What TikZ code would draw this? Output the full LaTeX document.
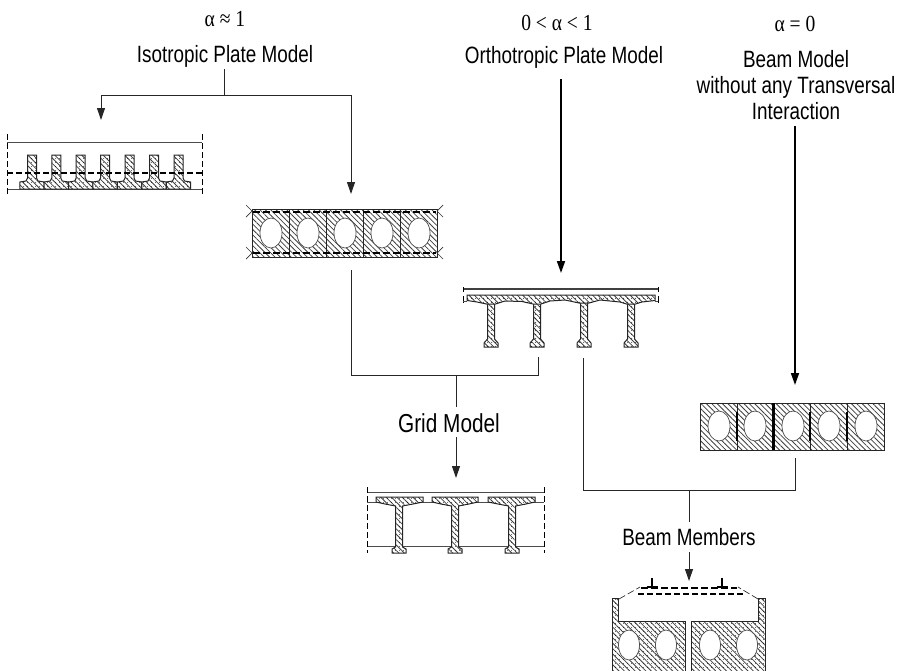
\documentclass[tikz,border=0pt]{standalone}
\usepackage{fontspec}
\setmainfont[FakeStretch=0.8]{Liberation Sans}
\newfontfamily\grk[FakeStretch=0.85]{Liberation Serif}
\usetikzlibrary{patterns.meta,arrows.meta}
\tikzset{
 x=1pt,y=-1pt,
 lab/.style={inner sep=0pt,font=\fontsize{23.6}{26}\selectfont,align=center},
 grklab/.style={inner sep=0pt,font=\grk\fontsize{23}{26}\selectfont},
 conn/.style={line width=1pt,black!85},
 heavy/.style={line width=1.7pt,black,-{Triangle[length=12pt,width=8pt]}},
 arr/.style={conn,-{Triangle[length=12pt,width=8pt]}},
 hatch/.style={draw=black!85,line width=1pt,preaction={fill=white},pattern={Lines[angle=135,distance=3.8pt,line width=.8pt]},pattern color=black!75},
 conc/.style={hatch,postaction={pattern={Dots[distance=4pt,radius=.55pt]},pattern color=black}},
 hole/.style={draw=black!70,line width=.7pt,fill=white},
 thin line/.style={line width=1pt,black!70},
 dash line/.style={line width=1.1pt,black,dash pattern=on 6pt off 3pt},
 strong dash/.style={line width=1.5pt,black,dash pattern=on 7pt off 3pt},
 tick dash/.style={line width=.9pt,black,dash pattern=on 6pt off 3pt},
}
\begin{document}
\begin{tikzpicture}
\useasboundingbox (0,0) rectangle (903,670);
% ---- labels
\node[grklab] (a1) at (225,19) {α ≈ 1};
\node[lab] (iso) at (225,56) {Isotropic Plate Model};
\node[grklab] (a2) at (557,23) {0 < α < 1};
\node[lab] (ortho) at (564,57) {Orthotropic Plate Model};
\node[grklab] (a3) at (795,24) {α = 0};
\node[lab] (beam) at (796,85) {Beam Model\\without any Transversal\\Interaction};
\node[lab,font=\fontsize{26}{28}\selectfont] (grid) at (449,423) {Grid Model};
\node[lab] (members) at (689,537) {Beam Members};
% ---- panel A
\draw[thin line] (7,142) -- (202,142);
\draw[thin line] (7,189) -- (202,189);
\foreach \x in {7,202} \draw[tick dash] (\x,134) -- (\x,194);
\foreach \x in {32,56.3,80.7,105,129.5,154,178.5}{
 \draw[conc] (\x-12.2,189) -- (\x-12.2,182) -- (\x-6,181) -- (\x-4.5,178) -- (\x-4.5,155) -- (\x+4.5,155) -- (\x+4.5,178) -- (\x+6,181) -- (\x+12.2,182) -- (\x+12.2,189) -- cycle;
}
\draw[dash line] (7,173) -- (202,173);
% ---- panel B
\draw[hatch] (252,209) rectangle (437,257);
\foreach \x in {289,326,363,400} \draw[line width=1pt,black!85] (\x,209) -- (\x,257);
\foreach \x in {271,308,345,382,419} \draw[hole] (\x,233) ellipse (11 and 15);
\draw[strong dash] (253,212) -- (436,212);
\draw[strong dash] (253,253) -- (436,253);
\foreach \x/\s in {252/-1,437/1}{
 \foreach \y in {211,253}{
  \draw[line width=.7pt,black!80] (\x+\s*6,\y-6) -- (\x,\y) -- (\x+\s*6,\y+6);
 }
}
% ---- panel C
\draw[line width=1.2pt,black!75] (463,289) -- (658,289);
\draw[line width=.9pt] (463,287) -- (463,292) (658,287) -- (658,292) (463,296) -- (463,303) (658,296) -- (658,303);
\draw[thin line] (463,301) -- (467,301) (655,301) -- (658,301);
\foreach \x in {491,537,584,631}{
 \draw[conc] (\x-3.5,300) -- (\x-3.5,339) -- (\x-7,343) -- (\x-7,347) -- (\x+7,347) -- (\x+7,343) -- (\x+3.5,339) -- (\x+3.5,300);
}
\draw[conc] (467,295) -- (655,295) -- (655,300.5) -- (642,302) -- (635.5,304) -- (626.5,304) -- (620,302) -- (600,300) -- (589,303) -- (579,303) -- (565,300) -- (550,301) -- (541,304) -- (533,304) -- (522,301.5) -- (505,301) -- (495.5,304) -- (486.5,304) -- (477,302) -- (467,300.5) -- cycle;
% ---- panel D
\draw[thin line] (367,492) -- (544,492);
\draw[thin line] (367,546) -- (544,546);
\draw[thin line] (367,502) -- (544,502);
\foreach \x in {367,544} \draw[tick dash] (\x,487) -- (\x,553);
\foreach \x/\la/\lb in {399/376/423,455/432/478,512/488/535}{
 \draw[conc] (\la,497) -- (\lb,497) -- (\lb,502) -- (\x+14,504) -- (\x+3.5,506) -- (\x+3.5,547) -- (\x+7,549) -- (\x+7,553) -- (\x-7,553) -- (\x-7,549) -- (\x-3.5,547) -- (\x-3.5,506) -- (\x-14,504) -- (\la,502) -- cycle;
}
% ---- panel F
\draw[hatch] (700,403) rectangle (884,450);
\foreach \x in {719,755,793,829,866} \draw[hole] (\x,426) ellipse (11 and 15);
\draw[line width=1pt,black!85] (737,403) -- (737,450) (810,403) -- (810,450) (847,403) -- (847,450);
\foreach \x in {737,810,847} \draw[line width=2.6pt,black] (\x,412) -- (\x,441);
\draw[line width=2.6pt,black] (773.5,403) -- (773.5,450);
% ---- panel E
\begin{scope}
\clip (600,570) rectangle (903,670);
\draw[conc] (612,680) -- (612,598) -- (618,598) -- (618,621) -- (685,621) -- (685,680);
\draw[conc] (691,680) -- (691,621) -- (758,621) -- (758,598) -- (765,598) -- (765,680);
\foreach \x in {629,666,710,747} \draw[hole] (\x,645) ellipse (10.5 and 15);
\end{scope}
\draw[strong dash] (641,588) -- (737,588);
\draw[dash line] (638,594) -- (743,594);
\draw[line width=.7pt,black!80,dash pattern=on 7pt off 3pt] (619,599) -- (640,587);
\draw[line width=.7pt,black!80,dash pattern=on 7pt off 3pt] (758,599) -- (738,587);
\foreach \x in {652,722}{
 \draw[line width=1.2pt,black] (\x,578) -- (\x,587) (\x-5,587) -- (\x+6,587);
}
% ---- connector anchors
\coordinate (isoS) at (224,69);
\coordinate (isoJ) at (224,95);
\coordinate (isoL) at (101,95);
\coordinate (isoR) at (351,95);
\coordinate (pA) at (101,120);
\coordinate (pB) at (351,194);
\coordinate (pBb) at (351,270);
\coordinate (orthoS) at (561,79);
\coordinate (pC) at (561,273);
\coordinate (beamS) at (795,126);
\coordinate (pF) at (795,385);
\coordinate (pCb1) at (538,357);
\coordinate (pCb2) at (583,358);
\coordinate (jG) at (456,375);
\coordinate (gridT) at (456,407);
\coordinate (gridB) at (456,437);
\coordinate (pFb) at (795,458);
\coordinate (jM) at (689,490);
\coordinate (memT) at (689,522);
\coordinate (memB) at (689,552);
\coordinate (pD) at (456,478);
\coordinate (pE) at (689,581);
% ---- connectors
\draw[conn] (isoS) -- (isoJ);
\draw[conn] (isoL) -- (isoR);
\draw[arr] (isoL) -- (pA);
\draw[arr] (isoR) -- (pB);
\draw[heavy] (orthoS) -- (pC);
\draw[heavy] (beamS) -- (pF);
\draw[conn] (pBb) |- (pCb1 |- jG) -- (pCb1);
\draw[conn] (jG) -- (gridT);
\draw[arr] (gridB) -- (pD);
\draw[conn] (pCb2) |- (pFb |- jM) -- (pFb);
\draw[conn] (jM) -- (memT);
\draw[arr] (memB) -- (pE);
\end{tikzpicture}
\end{document}
